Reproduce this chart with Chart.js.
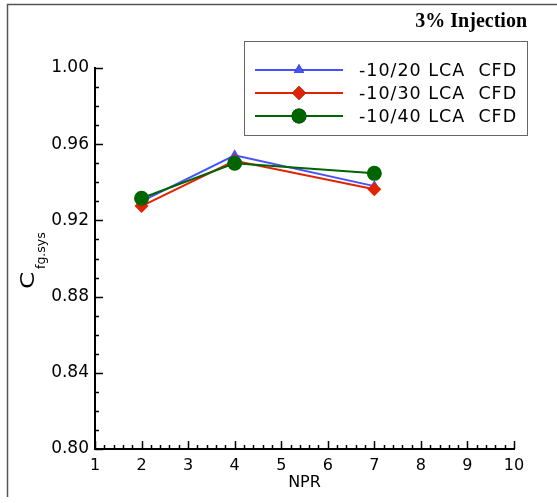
<!DOCTYPE html>
<html>
<head>
<meta charset="utf-8">
<script src="https://cdn.jsdelivr.net/npm/chart.js@4"></script>
<style>
html,body{margin:0;padding:0;background:#fff;}
#wrap{position:relative;width:557px;height:503px;}
</style>
</head>
<body>
<div id="wrap"><canvas id="c" width="557" height="503"></canvas></div>
<script>
const npr = [2, 4, 7];
const lca20 = [0.930, 0.9542, 0.938];
const lca30 = [0.9275, 0.9513, 0.9363];
const lca40 = [0.9316, 0.9500, 0.9447];
const seriesLabels = ['-10/20 LCA  CFD', '-10/30 LCA  CFD', '-10/40 LCA  CFD'];
const xTicks = [1,2,3,4,5,6,7,8,9,10];
const yTicks = [0.80,0.84,0.88,0.92,0.96,1.00];
const titleText = '3% Injection';
const xTitle = 'NPR';
const yTitleMain = 'C';
const yTitleSub = 'fg.sys';

const colors = ['rgb(70,80,255)', 'rgb(225,35,0)', 'rgb(0,100,0)'];
const styles = ['triangle', 'rectRot', 'circle'];
const radii = [6, 7, 7.5];
const seriesData = [lca20, lca30, lca40];

const datasets = seriesData.map((arr, i) => ({
  label: seriesLabels[i],
  data: arr.map((v, j) => ({x: npr[j], y: v})),
  borderColor: colors[i],
  backgroundColor: colors[i],
  pointStyle: styles[i],
  pointRadius: radii[i],
  pointBorderWidth: 0,
  borderWidth: 2,
  order: 3 - i,
  tension: 0
}));

const FONT = '"DejaVu Sans", "Liberation Sans", Arial, sans-serif';

const decor = {
  id: 'decor',
  afterDraw(chart) {
    const ctx = chart.ctx;
    const xs = chart.scales.x, ys = chart.scales.y;
    const left = chart.chartArea.left, bottom = chart.chartArea.bottom;
    ctx.save();
    // outer frame
    ctx.strokeStyle = '#555';
    ctx.lineWidth = 1.5;
    ctx.beginPath();
    ctx.moveTo(557, 4.5); ctx.lineTo(7.5, 4.5); ctx.lineTo(7.5, 497);
    ctx.stroke();
    // inward ticks
    ctx.strokeStyle = '#000';
    ctx.lineWidth = 1.5;
    ctx.beginPath();
    for (let k = 0; k <= 45; k++) {
      const v = 1 + k * 0.2;
      const px = Math.round(xs.getPixelForValue(v)) + 0.5;
      const len = (k % 5 === 0) ? 8 : 4;
      ctx.moveTo(px, bottom); ctx.lineTo(px, bottom - len);
    }
    for (let k = 0; k <= 20; k++) {
      const v = 0.80 + k * 0.01;
      const py = Math.round(ys.getPixelForValue(v)) + 0.5;
      const len = (k % 4 === 0) ? 8 : 4;
      ctx.moveTo(left, py); ctx.lineTo(left + len, py);
    }
    ctx.stroke();
    // y title with subscript
    ctx.fillStyle = '#000';
    ctx.translate(34, 289);
    ctx.rotate(-Math.PI / 2);
    ctx.textBaseline = 'alphabetic';
    ctx.textAlign = 'left';
    ctx.font = '19px ' + FONT;
    ctx.save();
    ctx.scale(1.3, 1);
    ctx.fillText(yTitleMain, 0, 0);
    ctx.restore();
    ctx.font = '12.5px ' + FONT;
    ctx.fillText(yTitleSub, 20, 11);
    ctx.restore();

    // title
    ctx.save();
    ctx.fillStyle = '#000';
    ctx.font = 'bold 20px "Liberation Serif", "Times New Roman", serif';
    ctx.textAlign = 'right';
    ctx.textBaseline = 'alphabetic';
    ctx.fillText(titleText, 527, 27);
    ctx.restore();

    // legend box
    ctx.save();
    ctx.strokeStyle = '#666';
    ctx.lineWidth = 1;
    ctx.strokeRect(244.5, 41.5, 283, 94);
    const rows = [70, 93, 116];
    chart.data.datasets.forEach((ds, i) => {
      const y = rows[i];
      ctx.strokeStyle = ds.borderColor;
      ctx.lineWidth = 2;
      ctx.beginPath(); ctx.moveTo(255, y); ctx.lineTo(343, y); ctx.stroke();
      Chart.helpers.drawPoint(ctx, {pointStyle: ds.pointStyle, radius: ds.pointRadius, borderWidth: 0, rotation: 0}, 299, y);
      ctx.fillStyle = ds.backgroundColor;
      ctx.fill();
      ctx.fillStyle = '#000';
      ctx.font = '17.5px ' + FONT;
      ctx.letterSpacing = '1px';
      ctx.textAlign = 'left';
      ctx.textBaseline = 'middle';
      ctx.fillText(ds.label, 359, y + 1);
      ctx.letterSpacing = '0px';
    });
    ctx.restore();
  }
};

new Chart(document.getElementById('c'), {
  type: 'line',
  data: { datasets },
  options: {
    responsive: false,
    animation: false,
    devicePixelRatio: 1,
    layout: { padding: { left: 0, right: 43, top: 68, bottom: 11 } },
    plugins: { legend: { display: false }, tooltip: { enabled: false } },
    scales: {
      x: {
        type: 'linear', min: 1, max: 10,
        afterBuildTicks(s) { s.ticks = xTicks.map(v => ({value: v})); },
        afterFit(s) { s.height = 43; },
        grid: { display: false, drawTicks: false },
        border: { display: true, color: '#000', width: 2 },
        ticks: { color: '#000', font: { family: FONT, size: 16 }, padding: 7, maxRotation: 0, autoSkip: false },
        title: { display: true, text: xTitle, color: '#000', font: { family: FONT, size: 16 }, padding: { top: 0, bottom: 0 } }
      },
      y: {
        type: 'linear', min: 0.80, max: 1.00,
        afterBuildTicks(s) { s.ticks = yTicks.map(v => ({value: v})); },
        afterFit(s) { s.width = 95; },
        grid: { display: false, drawTicks: false },
        border: { display: true, color: '#000', width: 2 },
        ticks: { color: '#000', font: { family: FONT, size: 17 }, padding: 6, autoSkip: false,
                 callback: v => Number(v).toFixed(2) }
      }
    }
  },
  plugins: [decor]
});
</script>
</body>
</html>
